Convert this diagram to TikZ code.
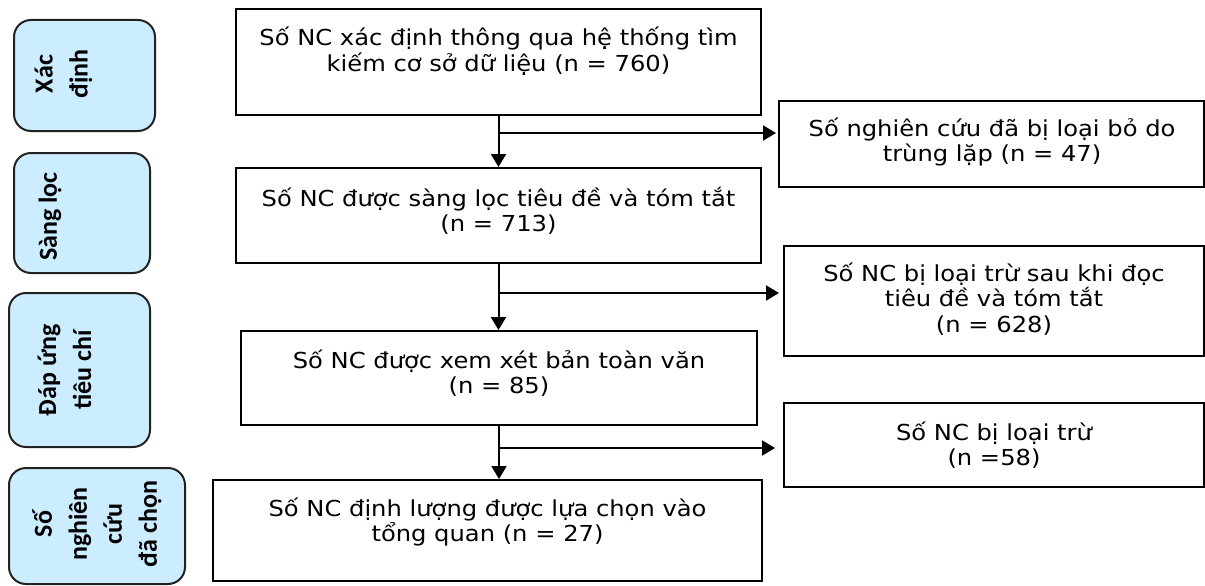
\documentclass[tikz,border=0pt]{standalone}
\usepackage{fontspec}
\setmainfont{DejaVu Sans}[FakeStretch=1.1]
\newfontfamily\carl{Carlito}
\usetikzlibrary{arrows.meta}
\definecolor{lblue}{HTML}{CCECFF}
\definecolor{edge}{HTML}{222222}
\begin{document}
\begin{tikzpicture}[x=1pt,y=-1pt,
  mainbox/.style={draw=black, line width=2pt, inner sep=0pt},
  sidebox/.style={draw=edge, fill=lblue, line width=2pt, rounded corners=17pt, inner sep=0pt},
  maintext/.style={align=center, inner sep=0pt, font=\fontsize{22}{25.5}\selectfont},
  sidetext/.style={align=center, inner sep=0pt, rotate=90, font=\carl\bfseries\fontsize{26}{35}\selectfont},
  arr/.style={draw=black, line width=2pt, -{Triangle[length=13pt,width=15pt]}}]
\useasboundingbox (0,0) rectangle (1205,586);
% left stage boxes
\node[sidebox, minimum width=141pt, minimum height=111pt] (L1) at (84.5,75.5) {};
\node[sidebox, minimum width=136pt, minimum height=120pt] (L2) at (82,213) {};
\node[sidebox, minimum width=141pt, minimum height=154pt] (L3) at (79.5,370) {};
\node[sidebox, minimum width=176pt, minimum height=116pt] (L4) at (97,526) {};
\node[sidetext] (tL1) at (63.5,74) {Xác\\định};
\node[sidetext] (tL2) at (50,216.5) {Sàng lọc};
\node[sidetext] (tL3) at (64.5,370) {Đáp ứng\\tiêu chí};
\node[sidetext] (tL4) at (97,524) {Số\\nghiên\\cứu\\đã chọn};
% main boxes
\node[mainbox, minimum width=525pt, minimum height=106pt] (b1) at (498.5,62) {};
\node[mainbox, minimum width=525pt, minimum height=95pt] (b2) at (498.5,215.5) {};
\node[mainbox, minimum width=516pt, minimum height=94pt] (b3) at (499,378) {};
\node[mainbox, minimum width=549pt, minimum height=101pt] (b4) at (487.5,530.5) {};
\node[maintext] (tb1) at (498.5,51) {Số NC xác định thông qua hệ thống tìm\\kiếm cơ sở dữ liệu (n = 760)};
\node[maintext] (tb2) at (498.5,211) {Số NC được sàng lọc tiêu đề và tóm tắt\\(n = 713)};
\node[maintext] (tb3) at (499,373) {Số NC được xem xét bản toàn văn\\(n = 85)};
\node[maintext] (tb4) at (487.5,522) {Số NC định lượng được lựa chọn vào\\tổng quan (n = 27)};
% right boxes
\node[mainbox, minimum width=425pt, minimum height=86pt] (r1) at (991.5,144) {};
\node[mainbox, minimum width=420pt, minimum height=110pt] (r2) at (994,301) {};
\node[mainbox, minimum width=420pt, minimum height=84pt] (r3) at (994,445) {};
\node[maintext] (tr1) at (992,142) {Số nghiên cứu đã bị loại bỏ do\\trùng lặp (n = 47)};
\node[maintext] (tr2) at (994,299) {Số NC bị loại trừ sau khi đọc\\tiêu đề và tóm tắt\\(n = 628)};
\node[maintext] (tr3) at (994,445) {Số NC bị loại trừ\\(n =58)};
% connectors
\draw[arr] (b1.south) -- (b2.north);
\draw[arr] (b2.south) -- (b2.south |- b3.north);
\draw[arr] (b3.south) -- (b3.south |- b4.north);
\coordinate (k1) at (b1.south |- 0,133);
\coordinate (k2) at (b2.south |- 0,293);
\coordinate (k3) at (b3.south |- 0,448);
\draw[arr, shorten >=2pt] (k1) -- (k1 -| r1.west);
\draw[arr, shorten >=4pt] (k2) -- (k2 -| r2.west);
\draw[arr, shorten >=8pt] (k3) -- (k3 -| r3.west);
\end{tikzpicture}
\end{document}
